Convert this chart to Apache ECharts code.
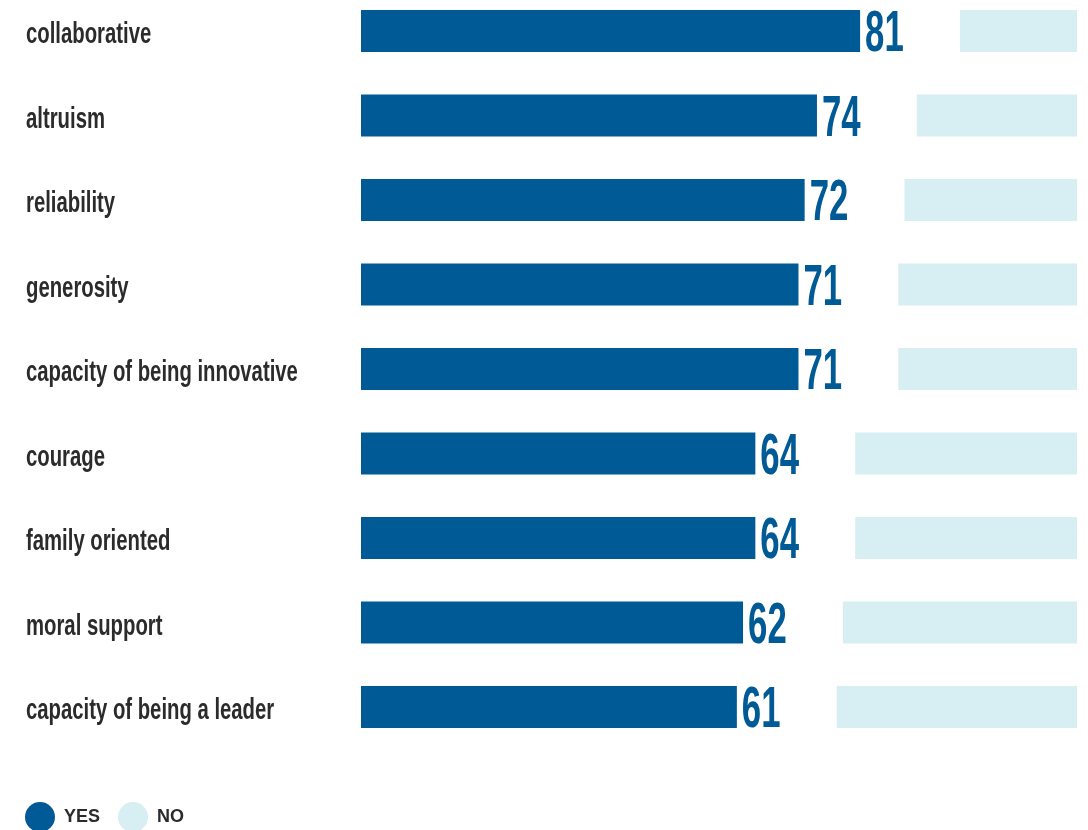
<!DOCTYPE html>
<html>
<head>
<meta charset="utf-8">
<script src="https://cdn.jsdelivr.net/npm/echarts@6/dist/echarts.min.js"></script>
<style>html,body{margin:0;padding:0;background:#fff}#c{width:1088px;height:830px}</style>
</head>
<body>
<div id="c"></div>
<script>
const categories = ['collaborative','altruism','reliability','generosity','capacity of being innovative','courage','family oriented','moral support','capacity of being a leader'];
const yesValues = [81,74,72,71,71,64,64,62,61];
const noValues = [19,26,28,29,29,36,36,38,39];
const seriesNames = ['YES','NO'];

const GAP = 16.2;
const YES_COLOR = '#005a96';
const NO_COLOR = '#d7eef3';
const TEXT_COLOR = '#2b2b2b';
const FONT = '"Liberation Sans", Arial, sans-serif';

const chart = echarts.init(document.getElementById('c'));
chart.setOption({
  animation: false,
  grid: {left: 361, right: 11, top: 31, bottom: 123, containLabel: false},
  legend: {
    left: 25, top: 802, padding: 0,
    itemWidth: 30, itemHeight: 30, itemGap: 18,
    icon: 'circle',
    data: seriesNames,
    textStyle: {fontFamily: FONT, fontWeight: 'bold', fontSize: 18, color: TEXT_COLOR, padding: [0,0,0,4]}
  },
  xAxis: {type: 'value', min: 0, max: 100 + GAP, show: false},
  yAxis: {
    type: 'category', data: categories, inverse: true, boundaryGap: false,
    axisLine: {show: false}, axisTick: {show: false}, splitLine: {show: false},
    axisLabel: {show: false}
  },
  series: [
    {name: 'YES', type: 'bar', stack: 's', data: yesValues, barWidth: 42, itemStyle: {color: YES_COLOR}},
    {name: 'gap', type: 'bar', stack: 's', data: categories.map(() => GAP), barWidth: 42, itemStyle: {color: 'rgba(0,0,0,0)'}, silent: true},
    {name: 'NO', type: 'bar', stack: 's', data: noValues, barWidth: 42, itemStyle: {color: NO_COLOR}},
    {
      name: 'valueLabels', type: 'custom',
      data: yesValues.map((v, i) => [v, i]),
      encode: {x: 0, y: 1},
      renderItem: function (params, api) {
        const p = api.coord([api.value(0), api.value(1)]);
        return {
          type: 'text', x: p[0] + 5, y: p[1] + 4, scaleX: 0.6,
          style: {text: String(api.value(0)), font: 'bold 58px ' + FONT, fill: YES_COLOR, align: 'left', verticalAlign: 'middle'}
        };
      }
    },
    {
      name: 'categoryLabels', type: 'custom',
      data: categories.map((c, i) => [0, i]),
      encode: {x: 0, y: 1},
      renderItem: function (params, api) {
        const p = api.coord([0, api.value(1)]);
        return {
          type: 'text', x: 26, y: p[1] + 4, scaleX: 0.70,
          style: {text: categories[params.dataIndex], font: 'bold 29px ' + FONT, fill: TEXT_COLOR, align: 'left', verticalAlign: 'middle'}
        };
      }
    }
  ]
});
</script>
</body>
</html>
